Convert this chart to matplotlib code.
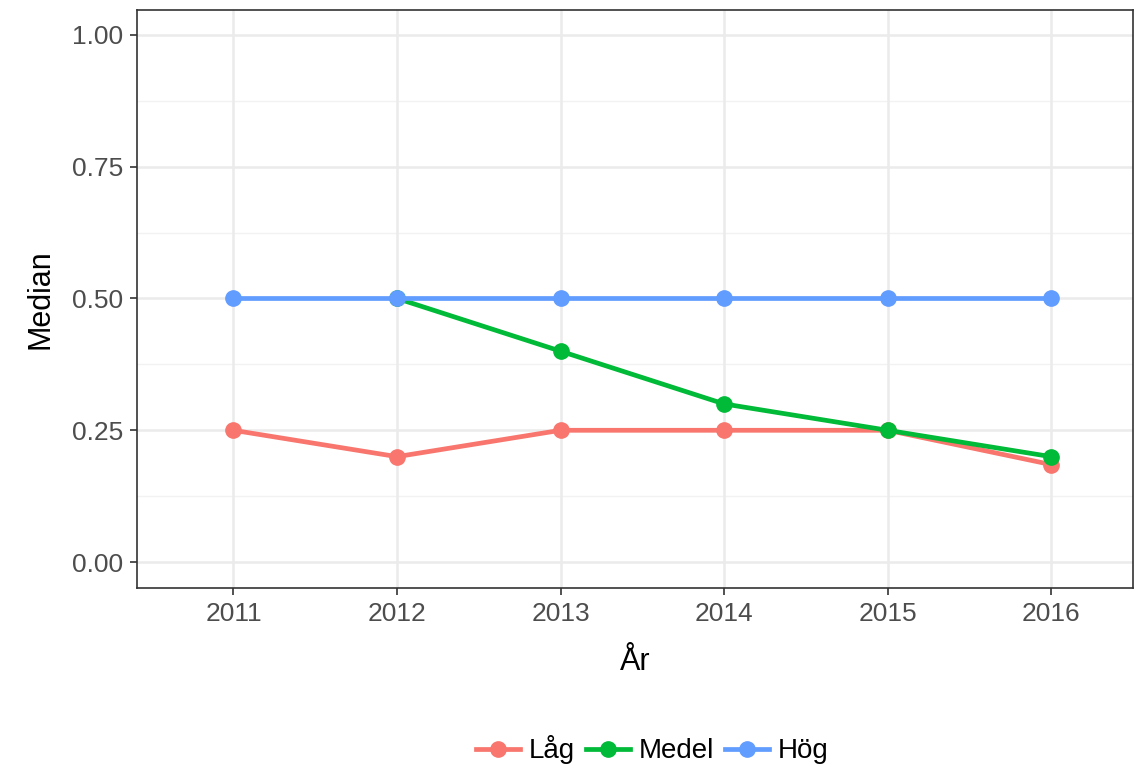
import numpy as np
import matplotlib.pyplot as plt

# data
years = [2011, 2012, 2013, 2014, 2015, 2016]
lag = [0.25, 0.20, 0.25, 0.25, 0.25, 0.185]
medel_years = [2012, 2013, 2014, 2015, 2016]
medel = [0.50, 0.40, 0.30, 0.25, 0.20]
hog = [0.50, 0.50, 0.50, 0.50, 0.50, 0.50]

colors = {'Låg': '#F8766D', 'Medel': '#00BA38', 'Hög': '#619CFF'}

plt.rcParams['font.family'] = ['Liberation Sans', 'DejaVu Sans']

fig = plt.figure(figsize=(11.34, 7.65), dpi=100)
ax = fig.add_axes([0.1208, 0.2314, 0.8782, 0.7556])

# grid like theme_bw
for y in [0.125, 0.375, 0.625, 0.875]:
    ax.axhline(y, color='#F2F2F2', lw=1.0, zorder=0)
for y in [0, 0.25, 0.5, 0.75, 1.0]:
    ax.axhline(y, color='#EBEBEB', lw=1.8, zorder=0)
for x in years:
    ax.axvline(x, color='#EBEBEB', lw=1.8, zorder=0)

ax.plot(years, lag, color=colors['Låg'], lw=3.4, marker='o', ms=11, label='Låg', zorder=3)
ax.plot(medel_years, medel, color=colors['Medel'], lw=3.4, marker='o', ms=11, label='Medel', zorder=4)
ax.plot(years, hog, color=colors['Hög'], lw=3.4, marker='o', ms=11, label='Hög', zorder=5)

ax.set_xlim(2010.41, 2016.5)
ax.set_ylim(-0.049, 1.047)
ax.set_xticks(years)
ax.set_yticks([0, 0.25, 0.5, 0.75, 1.0])
ax.set_yticklabels(['0.00', '0.25', '0.50', '0.75', '1.00'])
ax.tick_params(labelsize=19, colors='#333333', labelcolor='#4D4D4D', length=5, width=1.2, pad=5)

for s in ax.spines.values():
    s.set_color('#333333')
    s.set_linewidth(1.2)

ax.set_xlabel('År', fontsize=22, labelpad=15)
ax.set_ylabel('Median', fontsize=22, labelpad=12)

fig.legend(loc='center', bbox_to_anchor=(652 / 1134, 1 - 750 / 765), ncol=3, frameon=False,
           fontsize=20, handlelength=1.6, handletextpad=0.3, columnspacing=0.4)

fig.savefig('out.png', dpi=100)
